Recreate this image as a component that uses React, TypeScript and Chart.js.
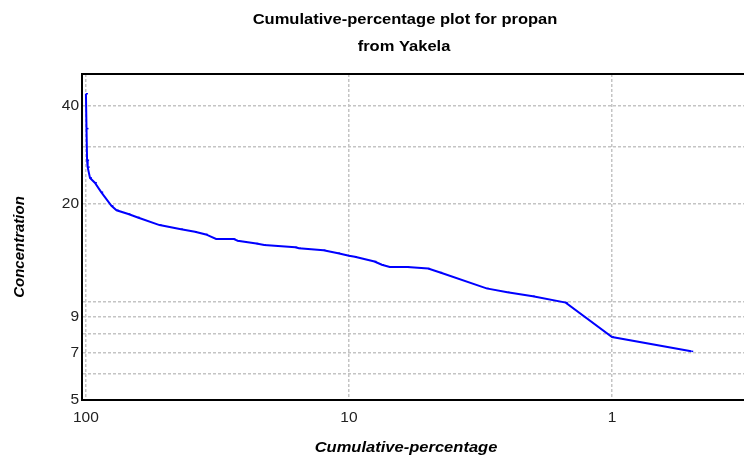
import React, { useEffect, useRef } from "react";
import { Chart, registerables } from "chart.js";

Chart.register(...registerables);

// Cumulative percentage (x) and propane concentration (y) at the curve's vertices
const cumulativePercent = [
  100, 99.5, 99, 98.5, 96.5, 92.5, 87.5, 80, 76.5, 69, 63.5, 52.5, 43.5, 38.5, 35, 32,
  27.5, 26.5, 22.5, 21, 16, 15.5, 12.5, 11, 10, 9.5, 8, 7.5, 7, 6, 5, 4.5, 3, 2.5, 2,
  1.5, 1, 0.5,
];
const concentration = [
  43.5, 34.0, 27.2, 25.9, 24.0, 23.2, 21.7, 19.7, 19.1, 18.6, 18.15, 17.2, 16.7, 16.4,
  16.1, 15.6, 15.6, 15.4, 15.1, 14.95, 14.7, 14.6, 14.4, 14.1, 13.85, 13.75, 13.3, 13.0,
  12.8, 12.8, 12.65, 12.3, 11.0, 10.7, 10.4, 9.95, 7.8, 7.05,
];

const xTicks = [100, 10, 1];
const xTickLabels = ["100", "10", "1"];
const xMin = 0.315;
const xMax = 103.5;
const yTicks = [5, 6, 7, 8, 9, 10, 20, 30, 40, 50];
const yTickLabels = ["5", "", "7", "", "9", "", "20", "", "40", ""];
const yMin = 5;
const yMax = 50;

const titleLines = ["Cumulative-percentage plot for propan", "from Yakela"];
const xTitle = "Cumulative-percentage";
const yTitle = "Concentration";

const FONT = '"Liberation Sans", Arial, sans-serif';
const GRID = "#c4c4c4";

// draws text centred at (cx, baseline) with a horizontal stretch
function wideText(ctx: CanvasRenderingContext2D, text: string, cx: number, y: number, sx: number) {
  ctx.save();
  ctx.translate(cx, y);
  ctx.scale(sx, 1);
  ctx.fillText(text, 0, 0);
  ctx.restore();
}

const textPlugin = {
  id: "frameAndText",
  afterDraw(chart: any) {
    const { ctx, chartArea } = chart;
    ctx.save();
    // top frame line
    ctx.strokeStyle = "#000";
    ctx.lineWidth = 2;
    ctx.beginPath();
    ctx.moveTo(chartArea.left - 1, chartArea.top);
    ctx.lineTo(chartArea.right, chartArea.top);
    ctx.stroke();

    ctx.fillStyle = "#000";
    ctx.textAlign = "center";
    ctx.textBaseline = "alphabetic";
    ctx.font = `bold 14px ${FONT}`;
    wideText(ctx, titleLines[0], 405, 24, 1.18);
    wideText(ctx, titleLines[1], 404, 51, 1.18);

    ctx.font = `italic bold 14px ${FONT}`;
    wideText(ctx, xTitle, 406, 452, 1.18);

    ctx.font = `italic bold 15px ${FONT}`;
    ctx.translate(24, 247);
    ctx.rotate(-Math.PI / 2);
    ctx.fillText(yTitle, 0, 0);
    ctx.restore();
  },
};

export default function App() {
  const canvasRef = useRef<HTMLCanvasElement>(null);

  useEffect(() => {
    if (!canvasRef.current) return;
    const points = cumulativePercent.map((p, i) => ({ x: p, y: concentration[i] }));
    const chart = new Chart(canvasRef.current, {
      type: "line",
      data: {
        datasets: [
          {
            data: points,
            borderColor: "#0000ff",
            backgroundColor: "#0000ff",
            borderWidth: 2,
            pointStyle: "dash",
            pointRadius: 2,
            pointBorderWidth: 1.5,
            pointBorderColor: "#0000ff",
            tension: 0,
            fill: false,
          },
        ],
      },
      options: {
        responsive: false,
        animation: false,
        devicePixelRatio: 1,
        layout: { autoPadding: false, padding: { top: 74, left: 0, right: 0, bottom: 0 } },
        plugins: {
          legend: { display: false },
          title: { display: false },
          tooltip: { enabled: false },
        },
        scales: {
          x: {
            type: "logarithmic",
            reverse: true,
            bounds: "data",
            min: xMin,
            max: xMax,
            afterBuildTicks: (scale: any) => {
              scale.ticks = xTicks.map((v) => ({ value: v }));
              scale.min = xMin;
              scale.max = xMax;
            },
            afterFit: (scale: any) => {
              scale.height = 60;
              scale.paddingLeft = 0;
              scale.paddingRight = 0;
            },
            ticks: {
              autoSkip: false,
              maxRotation: 0,
              padding: 8,
              color: "#222",
              font: { family: FONT, size: 15.5 },
              callback: (value: any) => {
                const i = xTicks.indexOf(Number(value));
                return i >= 0 ? xTickLabels[i] : "";
              },
            },
            grid: {
              color: GRID,
              lineWidth: 1.5,
              drawTicks: false,
            },
            border: { display: true, color: "#000", width: 2, dash: [3, 2] },
          },
          y: {
            type: "logarithmic",
            bounds: "data",
            min: yMin,
            max: yMax,
            afterBuildTicks: (scale: any) => {
              scale.ticks = yTicks.map((v) => ({ value: v }));
              scale.min = yMin;
              scale.max = yMax;
            },
            afterFit: (scale: any) => {
              scale.width = 82;
            },
            ticks: {
              autoSkip: false,
              padding: 3,
              color: "#222",
              font: { family: FONT, size: 15.5 },
              callback: (value: any) => {
                const i = yTicks.indexOf(Number(value));
                return i >= 0 ? yTickLabels[i] : "";
              },
            },
            grid: {
              color: (ctx: any) => {
                const v = ctx.tick ? ctx.tick.value : 0;
                return v === yMin || v === yMax ? "rgba(0,0,0,0)" : GRID;
              },
              lineWidth: 1.5,
              drawTicks: false,
            },
            border: { display: true, color: "#000", width: 2, dash: [3, 2] },
          },
        },
      },
      plugins: [textPlugin],
    });
    return () => chart.destroy();
  }, []);

  return (
    <canvas
      ref={canvasRef}
      width={744}
      height={460}
      style={{ position: "fixed", left: 0, top: 0, width: 744, height: 460 }}
    />
  );
}
